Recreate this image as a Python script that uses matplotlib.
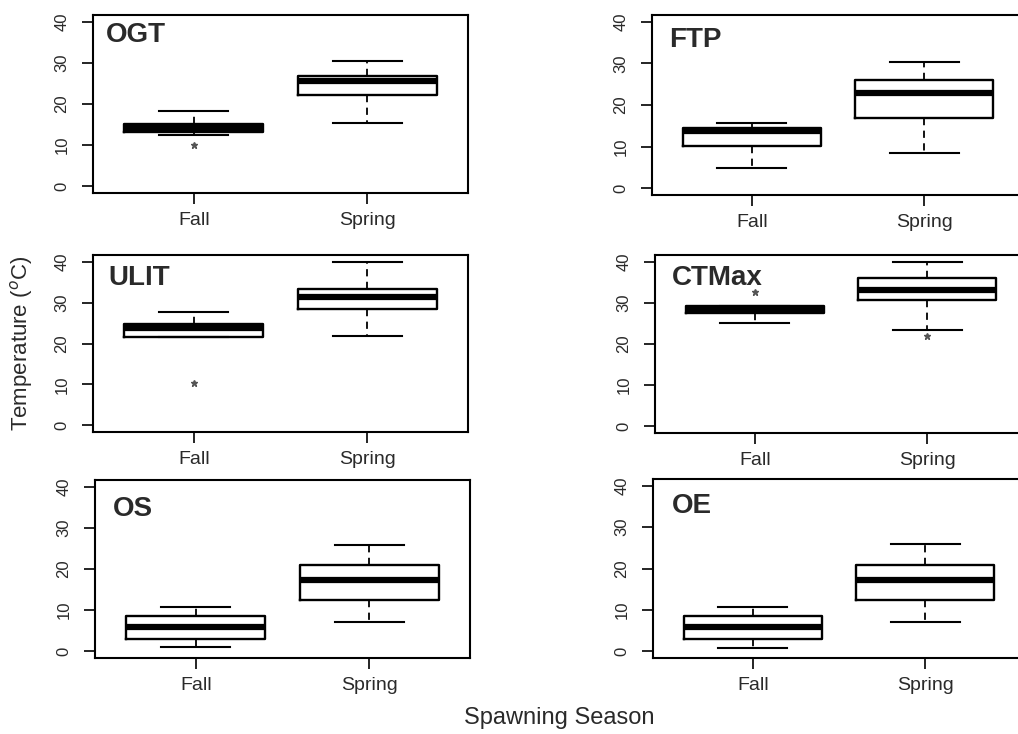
import matplotlib
matplotlib.use('Agg')
import matplotlib.pyplot as plt

plt.rcParams['font.family'] = ['Liberation Sans', 'DejaVu Sans']

seasons = ['Fall', 'Spring']
panel_names = ['OGT', 'FTP', 'ULIT', 'CTMax', 'OS', 'OE']
y_ticks = [0, 10, 20, 30, 40]

# five-number summaries: [lower whisker, Q1, median, Q3, upper whisker]
ogt_fall = [12.4, 13.2, 14.1, 15.1, 18.2]
ogt_spring = [15.5, 22.2, 25.5, 26.7, 30.4]
ftp_fall = [5.0, 10.2, 13.7, 14.5, 15.7]
ftp_spring = [8.4, 16.9, 22.8, 25.9, 30.3]
ulit_fall = [21.5, 21.5, 23.9, 24.7, 27.7]
ulit_spring = [21.9, 28.5, 31.3, 33.3, 40.0]
ctmax_fall = [25.2, 27.6, 28.4, 29.2, 29.2]
ctmax_spring = [23.4, 30.8, 33.0, 36.0, 40.0]
os_fall = [1.0, 3.1, 5.9, 8.6, 10.8]
os_spring = [7.1, 12.5, 17.4, 21.0, 25.9]
oe_fall = [0.8, 3.1, 5.8, 8.5, 10.8]
oe_spring = [7.0, 12.4, 17.3, 20.8, 25.8]

# outliers
ogt_fall_out = [10.0]
ulit_fall_out = [10.4]
ctmax_fall_out = [32.6]
ctmax_spring_out = [22.0]
empty_out = []

panel_data = [
    (ogt_fall, ogt_spring, ogt_fall_out, empty_out),
    (ftp_fall, ftp_spring, empty_out, empty_out),
    (ulit_fall, ulit_spring, ulit_fall_out, empty_out),
    (ctmax_fall, ctmax_spring, ctmax_fall_out, ctmax_spring_out),
    (os_fall, os_spring, empty_out, empty_out),
    (oe_fall, oe_spring, empty_out, empty_out),
]

W, H = 1018, 734
fig = plt.figure(figsize=(W / 100, H / 100), dpi=100)
fig.patch.set_facecolor('white')

# axes rectangles in pixels: left, top, right, bottom
rects = [
    (93, 15, 468, 193),
    (652, 15, 1024, 195),
    (93, 255, 468, 432),
    (655, 255, 1027, 433),
    (95, 480, 470, 658),
    (653, 479, 1025, 658),
]
label_pos = [
    (0.035, 0.85), (0.045, 0.82), (0.04, 0.83),
    (0.045, 0.83), (0.048, 0.80), (0.05, 0.81),
]

text_col = '#2a2a2a'

def stats_for(v, fl):
    return dict(whislo=v[0], q1=v[1], med=v[2], q3=v[3], whishi=v[4], fliers=fl)

for i, (name, (fv, sv, fo, so)) in enumerate(zip(panel_names, panel_data)):
    l, t, r, b = rects[i]
    ax = fig.add_axes([l / W, 1 - b / H, (r - l) / W, (b - t) / H])
    st = [stats_for(fv, fo), stats_for(sv, so)]
    ax.bxp(st, positions=[1, 2], widths=0.8, capwidths=0.4, showfliers=True,
           boxprops=dict(color='black', linewidth=1.7),
           medianprops=dict(color='black', linewidth=4.5, solid_capstyle='butt'),
           whiskerprops=dict(color='black', linewidth=1.3, linestyle=(0, (4, 3))),
           capprops=dict(color='black', linewidth=1.5),
           flierprops=dict(marker='*', markersize=5, markerfacecolor='#555555',
                           markeredgecolor='#555555', linestyle='none'))
    ax.set_xlim(0.42, 2.58)
    ax.set_ylim(-1.6, 41.6)
    ax.set_xticks([1, 2])
    ax.set_xticklabels(seasons, fontsize=14, color=text_col)
    ax.set_yticks(y_ticks)
    ax.set_yticklabels([str(v) for v in y_ticks], fontsize=12, color=text_col,
                       rotation=90, va='center')
    ax.tick_params(axis='x', length=8, width=1.2, pad=6, color='black')
    ax.tick_params(axis='y', length=8, width=1.2, pad=9, color='black')
    for s in ax.spines.values():
        s.set_linewidth(1.5)
        s.set_color('black')
    ax.text(label_pos[i][0], label_pos[i][1], name, transform=ax.transAxes,
            fontsize=20, fontweight='bold', color=text_col, va='baseline', ha='left')

fig.text(22 / W, 1 - 343 / H, 'Temperature ($^{o}$C)', rotation=90,
         fontsize=16, color=text_col, ha='center', va='center')
fig.text(559 / W, 1 - 718 / H, 'Spawning Season', fontsize=17, color=text_col,
         ha='center', va='center')

fig.savefig('out.png', dpi=100, facecolor='white')
